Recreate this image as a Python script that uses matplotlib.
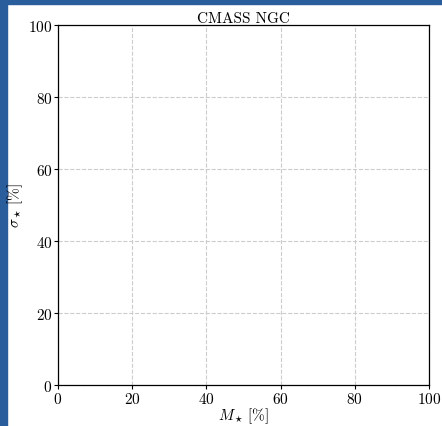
import matplotlib
matplotlib.use('Agg')
import matplotlib.pyplot as plt
from matplotlib.patches import Rectangle

plt.rcParams['font.family'] = 'serif'
plt.rcParams['font.serif'] = ['cmr10']
plt.rcParams['mathtext.fontset'] = 'cm'
plt.rcParams['axes.formatter.use_mathtext'] = True

title = 'CMASS NGC'
xlabel = r'$M_\star\,[\%]$'
ylabel = r'$\sigma_\star\,[\%]$'
xlim = (0, 100)
ylim = (0, 100)
ticks = [0, 20, 40, 60, 80, 100]

fig = plt.figure(figsize=(4.42, 4.27), dpi=100)
# blue frame at top and left edges
fig.patches.append(Rectangle((0, 0), 7 / 442, 1, transform=fig.transFigure,
                             color='#2a5d9b', zorder=-1))
fig.patches.append(Rectangle((0, 1 - 5 / 427), 1, 5 / 427, transform=fig.transFigure,
                             color='#2a5d9b', zorder=-1))

ax = fig.add_axes([58 / 442, 1 - 386 / 427, (429 - 58) / 442, (386 - 26) / 427])
ax.set_xlim(*xlim)
ax.set_ylim(*ylim)
ax.set_xticks(ticks)
ax.set_yticks(ticks)
ax.grid(True, ls='--', color='#cccccc', lw=0.8)
ax.set_axisbelow(True)
ax.tick_params(labelsize=11, length=3, width=0.8, pad=1)
ax.set_title(title, fontsize=11, pad=2)
ax.set_xlabel(xlabel, fontsize=11, labelpad=0)
ax.set_ylabel(ylabel, fontsize=11, labelpad=2)
for s in ax.spines.values():
    s.set_linewidth(0.9)

fig.savefig('out.png', dpi=100)
